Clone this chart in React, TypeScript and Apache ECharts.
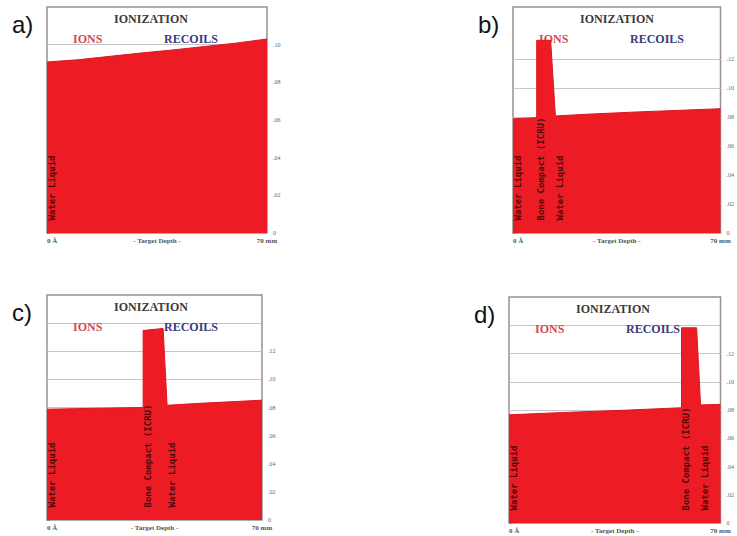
import React, { useEffect, useRef } from "react";
import * as echarts from "echarts";

// ---- Data ----
// x: target depth in mm, y: ionization (axis units)
const depthA = [0, 10, 20, 30, 40, 50, 60, 70];
const ionA = [4.54, 4.6, 4.69, 4.78, 4.86, 4.95, 5.04, 5.15];

const depthB = [0, 4, 8.0, 8.0, 12.7, 14.3, 25, 40, 55, 70];
const ionB = [3.94, 3.96, 3.98, 6.65, 6.65, 4.04, 4.1, 4.17, 4.23, 4.29];

const depthC = [0, 15, 31.3, 31.3, 37.8, 39.1, 50, 70];
const ionC = [3.94, 3.97, 4.0, 6.74, 6.81, 4.08, 4.15, 4.26];

const depthD = [0, 20, 40, 57.1, 57.1, 62.1, 63.4, 70];
const ionD = [3.83, 3.92, 4.0, 4.08, 6.91, 6.91, 4.18, 4.2];

// layer starts (mm) and names
const layerStartsA = [0];
const layerStartsB = [0, 8.0, 14.3];
const layerStartsC = [0, 31.3, 39.1];
const layerStartsD = [0, 57.1, 63.4];
const layerNamesA = ["Water Liquid"];
const layerNames3 = ["Water Liquid", "Bone Compact (ICRU)", "Water Liquid"];

const panelLetters = ["a)", "b)", "c)", "d)"];

const xTicks = [0, 35, 70];
const xTickLabels = ["0 Å", "- Target Depth -", "70 mm"];

const yMaxes = [6, 7.8, 8, 8];
const yTicksA = [0, 1, 2, 3, 4, 5];
const yTicks7 = [0, 1, 2, 3, 4, 5, 6];
const yLabelsA = ["0", ".02", ".04", ".06", ".08", ".10"];
const yLabels7 = ["0", ".02", ".04", ".06", ".08", ".10", ".12"];
const gridLinesA = [1, 2, 3, 4, 5];
const gridLinesB = [1, 2, 3, 4, 5, 6];
const gridLinesCD = [1, 2, 3, 4, 5, 6, 7];

// ---- Layout (pixels) ----
const layout = [
  { left: 47, top: 7, width: 220, height: 226 },
  { left: 513, top: 7, width: 220, height: 226 },
  { left: 47, top: 295, width: 215, height: 225 },
  { left: 509, top: 297, width: 223, height: 226 },
];

const panels = [
  { depth: depthA, ion: ionA, starts: layerStartsA, names: layerNamesA, ticks: yTicksA, labels: yLabelsA, grid: gridLinesA },
  { depth: depthB, ion: ionB, starts: layerStartsB, names: layerNames3, ticks: yTicks7, labels: yLabels7, grid: gridLinesB },
  { depth: depthC, ion: ionC, starts: layerStartsC, names: layerNames3, ticks: yTicks7, labels: yLabels7, grid: gridLinesCD },
  { depth: depthD, ion: ionD, starts: layerStartsD, names: layerNames3, ticks: yTicks7, labels: yLabels7, grid: gridLinesCD },
];

const FILL = "#ed1c24";
const SERIF = "'Liberation Serif', 'DejaVu Serif', serif";

export default function App() {
  const ref = useRef<HTMLDivElement>(null);

  useEffect(() => {
    if (!ref.current) return;
    const chart = echarts.init(ref.current, undefined, { renderer: "svg" });

    const grids: any[] = [];
    const xAxes: any[] = [];
    const yAxes: any[] = [];
    const series: any[] = [];
    const graphics: any[] = [];

    panels.forEach((p, i) => {
      const L = layout[i];
      grids.push({
        left: L.left,
        top: L.top,
        width: L.width,
        height: L.height,
        show: true,
        backgroundColor: "#ffffff",
        borderColor: "#9a8f8f",
        borderWidth: 1.5,
        containLabel: false,
      });
      xAxes.push({
        gridIndex: i,
        type: "value",
        min: 0,
        max: 70,
        interval: 35,
        axisLine: { show: false },
        axisTick: { show: false },
        splitLine: { show: false },
        axisLabel: {
          margin: 4,
          fontSize: 7,
          fontWeight: "bold",
          fontFamily: SERIF,
          color: "#555",
          alignMinLabel: "left",
          alignMaxLabel: "center",
          formatter: (v: number) => {
            const k = xTicks.indexOf(v);
            return k >= 0 ? xTickLabels[k] : "";
          },
        },
      });
      yAxes.push({
        gridIndex: i,
        type: "value",
        position: "right",
        min: 0,
        max: yMaxes[i],
        interval: 1,
        axisLine: { show: false },
        splitLine: { show: false },
        axisTick: {
          show: true,
          length: 3,
          customValues: p.ticks,
          lineStyle: { color: "#888" },
        },
        axisLabel: {
          margin: 6,
          fontSize: 6,
          color: "#666",
          fontFamily: SERIF,
          customValues: p.ticks,
          formatter: (v: number) => {
            const k = p.ticks.indexOf(v);
            return k >= 0 ? p.labels[k] : "";
          },
        },
      });
      // grid lines (behind the fill)
      series.push({
        type: "line",
        xAxisIndex: i,
        yAxisIndex: i,
        data: [],
        silent: true,
        z: 1,
        markLine: {
          silent: true,
          z: 1,
          symbol: "none",
          label: { show: false },
          lineStyle: { color: "#c6c6c6", width: 1, type: "solid" },
          data: p.grid.map((v) => ({ yAxis: v })),
        },
      });
      // ionization area
      series.push({
        type: "line",
        xAxisIndex: i,
        yAxisIndex: i,
        data: p.depth.map((d, k) => [d, p.ion[k]]),
        symbol: "none",
        z: 3,
        lineStyle: { color: "#d81820", width: 1 },
        areaStyle: { color: FILL, opacity: 1 },
      });
      // layer names (vertical)
      series.push({
        type: "scatter",
        xAxisIndex: i,
        yAxisIndex: i,
        z: 4,
        symbolSize: 1,
        itemStyle: { color: "rgba(0,0,0,0)" },
        data: p.starts.map((s, k) => ({ value: [s, 0], name: p.names[k] })),
        label: {
          show: true,
          position: [5, -12],
          rotate: 90,
          align: "left",
          verticalAlign: "middle",
          formatter: (d: any) => d.name,
          fontSize: 9,
          fontWeight: "bold",
          fontFamily: "'DejaVu Sans Mono', monospace",
          color: "#2a0505",
          opacity: 0.85,
        },
      });

      // titles inside the frame
      graphics.push({
        type: "text",
        x: L.left + 104,
        y: L.top + 12,
        z: 2,
        style: {
          text: "IONIZATION",
          fill: "#3a3a3a",
          font: `bold 12px ${SERIF}`,
          textAlign: "center",
          textVerticalAlign: "middle",
        },
      });
      graphics.push({
        type: "text",
        x: L.left + 26,
        y: L.top + 32,
        z: 2,
        style: {
          text: "IONS",
          fill: "#cf4e4e",
          font: `bold 12px ${SERIF}`,
          textAlign: "left",
          textVerticalAlign: "middle",
        },
      });
      graphics.push({
        type: "text",
        x: L.left + 117,
        y: L.top + 32,
        z: 2,
        style: {
          text: "RECOILS",
          fill: "#3c3c78",
          font: `bold 12px ${SERIF}`,
          textAlign: "left",
          textVerticalAlign: "middle",
        },
      });
      graphics.push({
        type: "text",
        x: L.left - 35,
        y: L.top + 17,
        z: 2,
        style: {
          text: panelLetters[i],
          fill: "#111",
          font: "24px 'Liberation Sans', Arial, sans-serif",
          textAlign: "left",
          textVerticalAlign: "middle",
        },
      });
    });

    chart.setOption({
      animation: false,
      backgroundColor: "#ffffff",
      grid: grids,
      xAxis: xAxes,
      yAxis: yAxes,
      series,
      graphic: { elements: graphics },
    });

    return () => chart.dispose();
  }, []);

  return (
    <div
      ref={ref}
      style={{ position: "absolute", left: 0, top: 0, width: 737, height: 536 }}
    />
  );
}
